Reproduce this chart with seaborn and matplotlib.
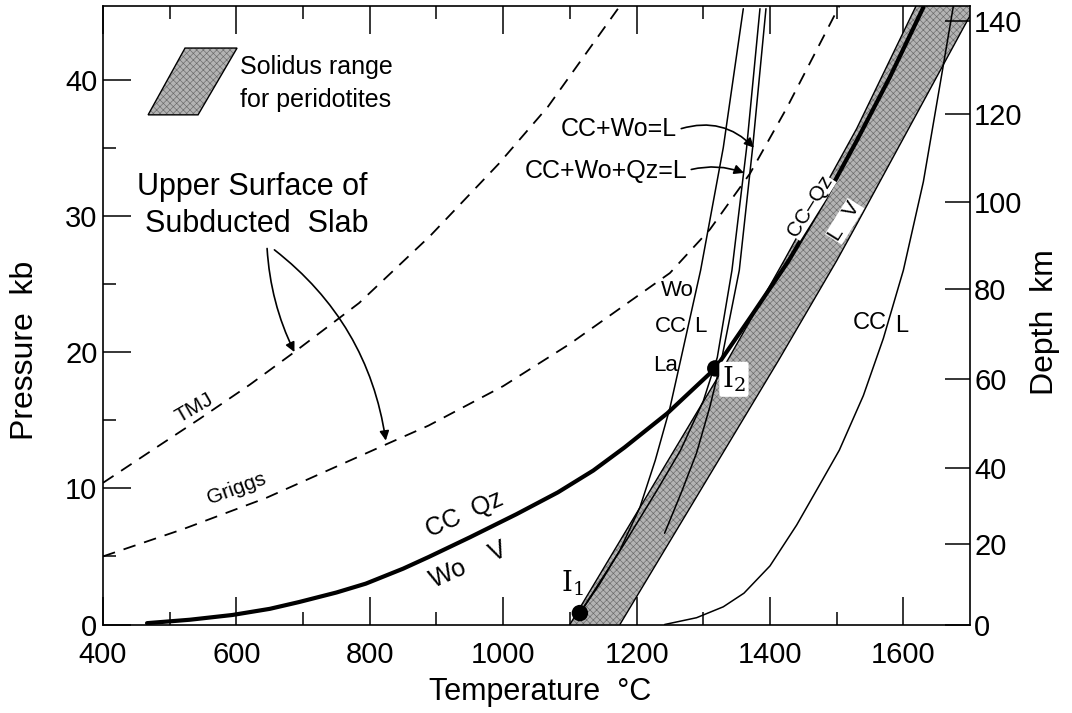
"""Carbonate / silicate melting diagram: pressure-temperature plot with depth axis."""
import matplotlib
matplotlib.use("Agg")
import matplotlib.pyplot as plt
from matplotlib.patches import Polygon
import seaborn as sns

# ---- values (T in degC, P in kb) ----
tmj_t = [400, 480, 545, 620, 687, 784, 890, 993, 1067, 1175]
tmj_p = [10.4, 13.0, 15.1, 17.6, 20.0, 23.6, 28.5, 33.8, 38.0, 45.4]

griggs_t = [400, 520, 645, 828, 888, 1000, 1100, 1250, 1310, 1370, 1425, 1504]
griggs_p = [5.0, 7.0, 9.3, 13.3, 14.6, 17.5, 20.6, 25.8, 29.0, 33.1, 37.9, 45.4]

# CC + Qz = Wo + V (heavy curve below I2)
decarb_t = [466, 530, 594, 650, 694, 750, 794, 850, 888, 950, 1020, 1082, 1135, 1182, 1246, 1318]
decarb_p = [0.1, 0.35, 0.7, 1.15, 1.65, 2.35, 3.0, 4.1, 4.95, 6.4, 8.1, 9.7, 11.3, 13.0, 15.5, 18.8]

# CC-Qz solidus (heavy curve above I2)
melt_t = [1318, 1370, 1428, 1480, 1530, 1580, 1630]
melt_p = [18.8, 22.5, 26.7, 31.0, 35.5, 40.2, 45.3]

# peridotite solidus band
band_left_t = [1100, 1325, 1421, 1530, 1619]
band_left_p = [0.0, 18.4, 26.7, 36.4, 45.4]
band_right_t = [1175, 1413, 1500, 1527, 1690, 1708]
band_right_p = [0.0, 19.4, 26.7, 29.1, 43.8, 45.4]

# CC = L
ccl_t = [1242, 1290, 1330, 1361, 1400, 1440, 1475, 1504, 1540, 1570, 1600, 1630, 1658, 1675]
ccl_p = [0.0, 0.5, 1.3, 2.3, 4.3, 7.3, 10.3, 12.8, 16.8, 21.0, 26.0, 32.5, 40.5, 45.4]

# thin curves from the invariant points
l1_t = [1115, 1145, 1175, 1205, 1228, 1250, 1266, 1296, 1330, 1360]
l1_p = [0.84, 3.0, 5.45, 8.6, 12.05, 15.9, 19.4, 26.0, 35.0, 45.2]
l2_t = [1115, 1180, 1230, 1266, 1300, 1321, 1343, 1365, 1385]   # CC+Wo+Qz=L
l2_p = [0.84, 5.8, 9.8, 12.8, 16.4, 19.6, 26.0, 35.0, 45.2]
l3_t = [1242, 1268, 1290, 1310, 1328, 1354, 1374, 1394]         # CC+Wo=L
l3_p = [6.7, 9.8, 12.6, 16.0, 19.6, 26.0, 35.0, 45.2]

inv_t = [1115, 1318]   # I1, I2
inv_p = [0.84, 18.8]

depth_km = [0, 20, 40, 60, 80, 100, 120, 140]
depth_kb = [0, 5.9, 11.5, 18.0, 24.6, 31.0, 37.5, 44.3]

sns.set_theme(style="ticks")
plt.rcParams["font.family"] = ["Liberation Sans", "DejaVu Sans"]
plt.rcParams["mathtext.fontset"] = "dejavuserif"
plt.rcParams["hatch.linewidth"] = 0.45
for key in ["text.color", "axes.labelcolor", "xtick.color", "ytick.color", "axes.edgecolor"]:
    plt.rcParams[key] = "black"

BAND_FACE = "#b3b3b3"
BAND_HATCH = "#6a6a6a"

fig = plt.figure(figsize=(10.72, 7.13), dpi=100)
ax = fig.add_axes([0.0961, 0.1241, 0.8088, 0.8675])
ax.set_xlim(400, 1700)
ax.set_ylim(0, 45.4)

# shaded band
band_poly = list(zip(band_left_t, band_left_p)) + list(zip(band_right_t, band_right_p))[::-1]
ax.add_patch(Polygon(band_poly, closed=True, facecolor=BAND_FACE, edgecolor=BAND_HATCH,
                     hatch="xxxxx", linewidth=0, zorder=1))


def line(t, p, lw=1.1, ls="-", z=3):
    sns.lineplot(x=t, y=p, sort=False, estimator=None, color="black",
                 linewidth=lw, linestyle=ls, ax=ax, zorder=z)


line(band_left_t, band_left_p, lw=1.0, z=2)
line(band_right_t, band_right_p, lw=1.0, z=2)
line(tmj_t, tmj_p, lw=1.3, ls=(0, (7, 5)))
line(griggs_t, griggs_p, lw=1.3, ls=(0, (7, 5)))
line(ccl_t, ccl_p)
line(l1_t, l1_p)
line(l2_t, l2_p)
line(l3_t, l3_p)
line(decarb_t, decarb_p, lw=3.0, z=4)
line(melt_t, melt_p, lw=3.0, z=4)
sns.scatterplot(x=inv_t, y=inv_p, s=140, color="black", edgecolor="none", ax=ax, zorder=5)

# legend swatch
swatch = [(0.052, 0.824), (0.1096, 0.824), (0.1546, 0.932), (0.0946, 0.932)]
ax.add_patch(Polygon(swatch, closed=True, transform=ax.transAxes, facecolor=BAND_FACE,
                     edgecolor=BAND_HATCH, hatch="xxxxx", linewidth=0))
ax.add_patch(Polygon(swatch, closed=True, transform=ax.transAxes, fill=False,
                     edgecolor="black", linewidth=1))
ax.text(0.158, 0.901, "Solidus range", transform=ax.transAxes, fontsize=18, va="center")
ax.text(0.158, 0.848, "for peridotites", transform=ax.transAxes, fontsize=18, va="center")

# labels
ax.text(624, 32.1, "Upper Surface of", fontsize=22, ha="center", va="center")
ax.text(631, 29.4, "Subducted  Slab", fontsize=22, ha="center", va="center")
ax.text(537, 15.9, "TMJ", fontsize=15, ha="center", va="center", rotation=30)
ax.text(600, 10.0, "Griggs", fontsize=15, ha="center", va="center", rotation=20)
ax.text(942, 8.1, "CC  Qz", fontsize=18, ha="center", va="center", rotation=24)
ax.text(948, 4.4, "Wo    V", fontsize=18, ha="center", va="center", rotation=24)
ax.text(1261, 36.4, "CC+Wo=L", fontsize=18, ha="right", va="center")
ax.text(1276, 33.3, "CC+Wo+Qz=L", fontsize=18, ha="right", va="center")
ax.text(1261, 24.5, "Wo", fontsize=16, ha="center", va="center")
ax.text(1251, 21.9, "CC", fontsize=16, ha="center", va="center")
ax.text(1295, 21.9, "L", fontsize=16, ha="center", va="center")
ax.text(1243, 19.0, "La", fontsize=16, ha="center", va="center")
ax.text(1549, 22.1, "CC", fontsize=17, ha="center", va="center")
ax.text(1597, 21.9, "L", fontsize=17, ha="center", va="center")
ax.text(1460, 30.7, "CC\u2013Qz", fontsize=15, ha="center", va="center", rotation=58,
        bbox=dict(fc="white", ec="none", pad=0.3), zorder=6)
ax.text(1512, 29.6, "L   V", fontsize=15, ha="center", va="center", rotation=58,
        bbox=dict(fc="white", ec="none", pad=0.3), zorder=6)
ax.text(1104, 3.0, r"$\mathrm{I}_1$", fontsize=20, ha="center", va="center", zorder=6)
ax.text(1346, 18.0, r"$\mathrm{I}_2$", fontsize=20, ha="center", va="center", zorder=6,
        bbox=dict(fc="white", ec="none", boxstyle="round,pad=0.1"))

arrow = dict(arrowstyle="-|>", color="black", lw=1.2, mutation_scale=14, shrinkA=0, shrinkB=0)
ax.annotate("", xy=(687, 20.0), xytext=(646, 27.6),
            arrowprops=dict(arrow, connectionstyle="arc3,rad=0.1"))
ax.annotate("", xy=(824, 13.5), xytext=(657, 27.5),
            arrowprops=dict(arrow, connectionstyle="arc3,rad=-0.2"))
ax.annotate("", xy=(1376, 35.0), xytext=(1267, 36.4),
            arrowprops=dict(arrow, connectionstyle="arc3,rad=-0.3"))
ax.annotate("", xy=(1361, 33.15), xytext=(1282, 33.4),
            arrowprops=dict(arrow, connectionstyle="arc3,rad=-0.15"))

# axes and ticks
ax.set_xticks(range(400, 1700, 200))
ax.set_xticks(range(500, 1700, 200), minor=True)
ax.set_yticks(range(0, 50, 10))
ax.set_yticks(range(5, 45, 10), minor=True)
ax.tick_params(which="both", direction="in", top=True, right=False, width=1.1)
ax.tick_params(which="major", length=20, labelsize=21)
ax.tick_params(which="minor", length=9.5)
ax.tick_params(axis="x", pad=12)
ax.tick_params(axis="y", pad=4)
ax.set_xlabel("")
ax.set_ylabel("")
for s in ax.spines.values():
    s.set_linewidth(1.2)

ax2 = ax.twinx()
ax2.set_ylim(ax.get_ylim())
ax2.set_yticks(depth_kb, labels=[str(d) for d in depth_km])
ax2.tick_params(axis="y", direction="in", length=18, width=1.1, labelsize=21, pad=3)
for s in ax2.spines.values():
    s.set_visible(False)

fig.text(540 / 1072, 1 - 692 / 713, "Temperature  \u00b0C", fontsize=22, ha="center", va="center")
fig.text(25 / 1072, 1 - 350 / 713, "Pressure  kb", fontsize=23, ha="center", va="center", rotation=90)
fig.text(1045 / 1072, 1 - 322 / 713, "Depth  km", fontsize=23, ha="center", va="center", rotation=90)

fig.savefig("out.png", dpi=100, facecolor="white")
plt.close(fig)
